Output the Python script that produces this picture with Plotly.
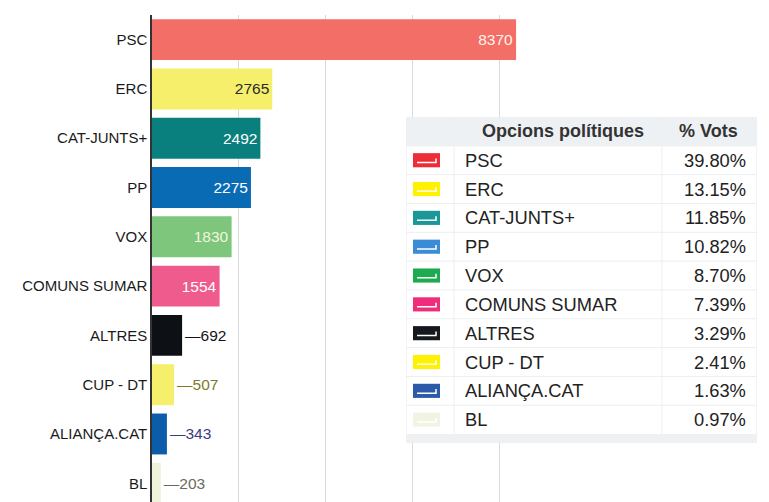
import plotly.graph_objects as go

# ---------------- data ----------------
parties = ["PSC", "ERC", "CAT-JUNTS+", "PP", "VOX", "COMUNS SUMAR",
           "ALTRES", "CUP - DT", "ALIANÇA.CAT", "BL"]
votes = [8370, 2765, 2492, 2275, 1830, 1554, 692, 507, 343, 203]
pct_labels = ["39.80%", "13.15%", "11.85%", "10.82%", "8.70%", "7.39%",
              "3.29%", "2.41%", "1.63%", "0.97%"]
bar_colors = ["#f26e67", "#f6ef6c", "#0a807e", "#0a6bb5", "#7dc67b", "#ee5b8c",
              "#0d1116", "#f6ef6c", "#0b5ca9", "#eff2dd"]
swatch_colors = ["#ee2b38", "#fff200", "#1a9898", "#3a8dd4", "#1eab50", "#ee2e7a",
                 "#15181c", "#fff200", "#2b5ba8", "#f1f4e2"]
value_colors = ["#fff4ea", "#2a2a2a", "#ffffff", "#ffffff", "#f2f6dc", "#ffffff",
                "#141414", "#7d7a2c", "#3c3c7c", "#6b6b5a"]
inside_flags = [True, True, True, True, True, True, False, False, False, False]
table_headers = ["Opcions polítiques", "% Vots"]

FONT = "Liberation Sans, Arial, sans-serif"

texts = [f"{v}" if ins else f"—{v}" for v, ins in zip(votes, inside_flags)]
positions = ["inside" if ins else "outside" for ins in inside_flags]

fig = go.Figure()
fig.add_trace(go.Bar(
    y=parties, x=votes, orientation="h",
    marker=dict(color=bar_colors, line=dict(width=0)),
    text=texts, textposition=positions,
    insidetextanchor="end",
    textfont=dict(family=FONT, size=15.5, color=value_colors),
    cliponaxis=False, constraintext="none",
    hoverinfo="skip", xaxis="x", yaxis="y",
))

# dummy trace to activate table axes
fig.add_trace(go.Scatter(x=[0], y=[0], mode="markers", marker=dict(opacity=0),
                         hoverinfo="skip", showlegend=False, xaxis="x2", yaxis="y2"))

W_TAB = 351
COL1, COL2 = 48, 256
n = len(parties)
y_top, y_bot = -0.5, n + 0.81

shapes = []
shapes.append(dict(type="rect", xref="x2", yref="y2", x0=0, x1=W_TAB, y0=y_top, y1=y_bot,
                   fillcolor="#ffffff", line=dict(color="#e8eaec", width=1), layer="above"))
shapes.append(dict(type="rect", xref="x2", yref="y2", x0=0, x1=W_TAB, y0=y_top, y1=0.5,
                   fillcolor="#eef1f3", line=dict(width=0), layer="above"))
shapes.append(dict(type="rect", xref="x2", yref="y2", x0=0, x1=W_TAB, y0=n + 0.5, y1=y_bot,
                   fillcolor="#eef0f1", line=dict(width=0), layer="above"))
for i in range(n):
    shapes.append(dict(type="line", xref="x2", yref="y2", x0=0, x1=W_TAB, y0=i + 0.5, y1=i + 0.5,
                       line=dict(color="#eceeef", width=1), layer="above"))
for cx in (COL1, COL2):
    shapes.append(dict(type="line", xref="x2", yref="y2", x0=cx, x1=cx, y0=y_top, y1=n + 0.5,
                       line=dict(color="#eceeef", width=1), layer="above"))

annotations = []
annotations.append(dict(xref="x2", yref="y2", x=157, y=0, text=f"<b>{table_headers[0]}</b>",
                        showarrow=False, xanchor="center", yanchor="middle",
                        font=dict(family=FONT, size=18, color="#333333")))
annotations.append(dict(xref="x2", yref="y2", x=303, y=0, text=f"<b>{table_headers[1]}</b>",
                        showarrow=False, xanchor="center", yanchor="middle",
                        font=dict(family=FONT, size=18, color="#333333")))
for i, (p, pc, sc) in enumerate(zip(parties, pct_labels, swatch_colors)):
    r = i + 1
    shapes.append(dict(type="rect", xref="x2", yref="y2", x0=7, x1=34, y0=r - 0.245, y1=r + 0.245,
                       fillcolor=sc, line=dict(width=0), layer="above"))
    shapes.append(dict(type="path", xref="x2", yref="y2",
                       path=f"M 11,{r + 0.08} L 30,{r + 0.08} L 30,{r - 0.06}",
                       line=dict(color="#ffffff", width=1.5), layer="above"))
    annotations.append(dict(xref="x2", yref="y2", x=57, y=r, text=p, showarrow=False,
                            xanchor="left", yanchor="middle",
                            font=dict(family=FONT, size=18.3, color="#222222")))
    annotations.append(dict(xref="x2", yref="y2", x=342, y=r, text=pc, showarrow=False,
                            xanchor="right", yanchor="middle",
                            font=dict(family=FONT, size=18.3, color="#222222")))

fig.update_layout(
    width=769, height=502,
    margin=dict(l=152, r=0, t=15, b=0, autoexpand=False),
    paper_bgcolor="#ffffff", plot_bgcolor="#ffffff",
    showlegend=False,
    bargap=0.17,
    xaxis=dict(domain=[0, 0.6126], range=[0, 8690], dtick=2000, tick0=0,
               showgrid=True, gridcolor="#d9d9d9", gridwidth=1,
               showticklabels=False, zeroline=False, showline=False, fixedrange=True),
    yaxis=dict(categoryorder="array", categoryarray=parties, range=[9.38, -0.5],
               showline=True, linecolor="#333333", linewidth=1.5, ticks="",
               showgrid=False, automargin=False,
               tickfont=dict(family=FONT, size=15, color="#1a1a1a")),
    xaxis2=dict(domain=[0.4117, 0.9805], range=[0, W_TAB], visible=False, anchor="y2",
                fixedrange=True),
    yaxis2=dict(domain=[0.1211, 0.7906], range=[y_bot, y_top], visible=False, anchor="x2",
                fixedrange=True),
    shapes=shapes,
    annotations=annotations,
)

fig.write_html("out.html")
